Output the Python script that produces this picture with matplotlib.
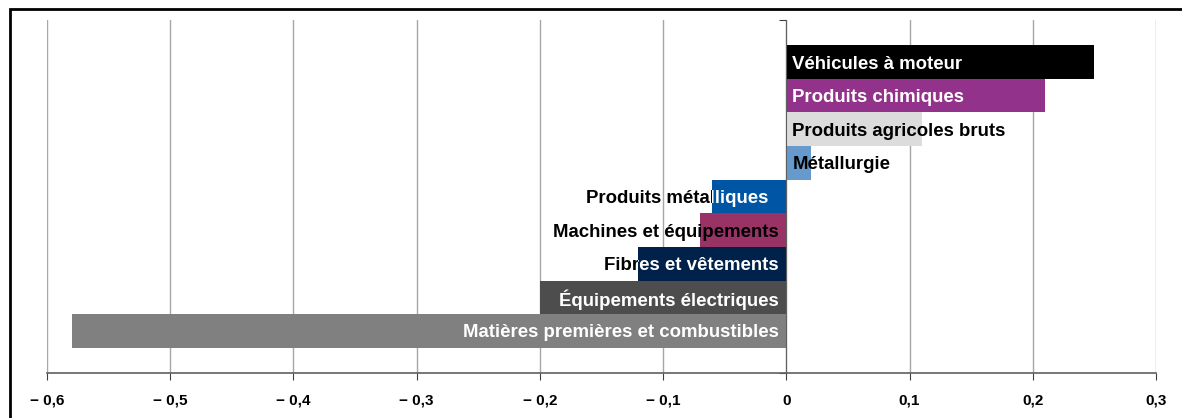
import matplotlib.pyplot as plt
from matplotlib.patches import Rectangle

# données (de haut en bas)
categories = ['Véhicules à moteur', 'Produits chimiques', 'Produits agricoles bruts',
              'Métallurgie', 'Produits métalliques  ', 'Machines et équipements',
              'Fibres et vêtements', 'Équipements électriques',
              'Matières premières et combustibles']
values = [0.25, 0.21, 0.11, 0.02, -0.06, -0.07, -0.12, -0.20, -0.58]
colors = ['#000000', '#93328A', '#DCDCDC', '#6699CC', '#0055A5', '#993366',
          '#00214A', '#4D4D4D', '#808080']
inside_text = ['white', 'white', 'black', 'black', 'white', 'black',
               'white', 'white', 'white']
xticks = [-0.6, -0.5, -0.4, -0.3, -0.2, -0.1, 0, 0.1, 0.2, 0.3]
xtick_labels = ['− 0,6', '− 0,5', '− 0,4', '− 0,3', '− 0,2', '− 0,1', '0', '0,1', '0,2', '0,3']

plt.rcParams['font.family'] = ['Liberation Sans', 'DejaVu Sans']

W, H = 1182, 418
fig = plt.figure(figsize=(W / 100, H / 100), dpi=100)
ax = fig.add_axes([47 / W, (H - 373) / H, (1156 - 47) / W, (373 - 20) / H])

n = len(categories)
ypos = [n - 1 - i for i in range(n)]
bars = ax.barh(ypos, values, height=1.0, color=colors, zorder=2)

for bar, name, v, y, tc in zip(bars, categories, values, ypos, inside_text):
    if v >= 0:
        x, ha = 0.005, 'left'
    else:
        x, ha = -0.006, 'right'
    ty = y - 0.06
    # texte noir sous la barre, puis la partie dans la barre par-dessus
    ax.text(x, ty, name, ha=ha, va='center', fontsize=13.4, fontweight='bold',
            color='black', zorder=1)
    t = ax.text(x, ty, name, ha=ha, va='center', fontsize=13.4, fontweight='bold',
                color=tc, zorder=4, clip_on=True)
    t.set_clip_path(bar)

ylim = (-1.25, n - 1 + 1.25)
ax.set_xlim(-0.6, 0.3)
ax.set_ylim(*ylim)
ax.set_xticks(xticks)
ax.set_xticklabels(xtick_labels, fontsize=11, fontweight='bold')
ax.grid(axis='x', color='#A6A6A6', linewidth=1, zorder=0)

ax.set_yticks(list(ylim))
ax.set_yticklabels([])
ax.tick_params(axis='y', length=5, color='#404040', direction='out')
ax.tick_params(axis='x', length=5, color='#404040', direction='out', pad=10)

for s in ['top', 'right']:
    ax.spines[s].set_visible(False)
ax.spines['left'].set_position(('data', 0))
ax.spines['left'].set_color('#606060')
ax.spines['left'].set_zorder(5)
ax.spines['bottom'].set_color('#606060')
ax.spines['bottom'].set_linewidth(1.2)

# cadre autour de la figure
fig.patches.append(Rectangle((10 / W, -0.1), 1.1, (H - 9) / H + 0.1,
                             transform=fig.transFigure, fill=False,
                             edgecolor='black', linewidth=2))

fig.savefig('out.png', dpi=100)
